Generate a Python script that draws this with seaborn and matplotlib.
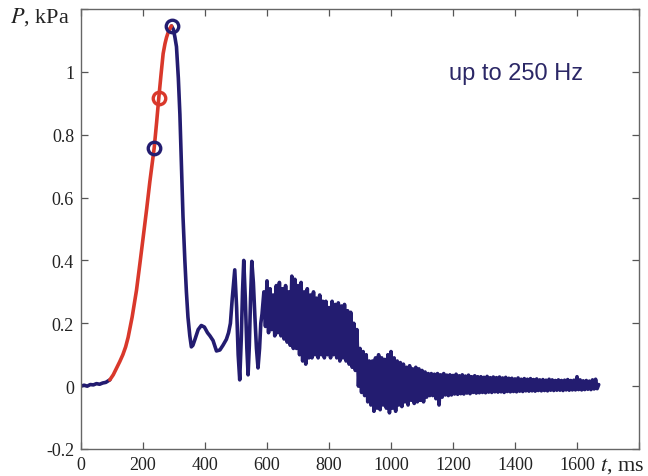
import numpy as np
import pandas as pd
import matplotlib
matplotlib.use("Agg")
import matplotlib.pyplot as plt
from matplotlib.ticker import FuncFormatter
import seaborn as sns

# ---------------- data ----------------
# initial blue baseline
t_base = [0, 10, 20, 30, 40, 50, 60, 70, 80, 93]
p_base = [0.0, 0.003, 0.0, 0.005, 0.004, 0.008, 0.006, 0.01, 0.012, 0.02]

# red rising front
t_rise = [93, 104, 115, 125, 135, 144, 152, 165, 179, 190, 201, 212, 222, 236,
          244, 251, 258, 265, 271, 276, 281, 286, 292]
p_rise = [0.02, 0.036, 0.058, 0.078, 0.10, 0.125, 0.155, 0.22, 0.305, 0.39, 0.477,
          0.565, 0.65, 0.757, 0.84, 0.918, 0.99, 1.058, 1.09, 1.11, 1.125, 1.137, 1.146]

# blue decay and first oscillations
t_decay = [292, 298, 303, 308, 314, 319, 324, 329, 335, 340,
           345, 351, 356, 361, 368, 378, 388, 398, 408, 416,
           426, 437, 448, 458, 469, 476, 482, 488, 496, 502,
           507, 512, 517, 521, 525, 530, 535, 539, 543, 547,
           551, 556, 561, 566, 571, 576, 580, 584]
p_decay = [1.146, 1.135, 1.11, 1.08, 0.98, 0.865, 0.70, 0.54, 0.40, 0.30,
           0.22, 0.16, 0.125, 0.13, 0.15, 0.18, 0.193, 0.188, 0.17, 0.16,
           0.145, 0.112, 0.115, 0.13, 0.149, 0.17, 0.20, 0.28, 0.37, 0.25,
           0.10, 0.02, 0.15, 0.30, 0.40, 0.28, 0.12, 0.036, 0.13, 0.28,
           0.397, 0.33, 0.22, 0.12, 0.058, 0.12, 0.20, 0.23]

# dense high-frequency tail, sampled every 5 ms from 590 to 1670 ms
t_tail = np.arange(590, 1671, 5)
p_tail = [
    0.30, 0.19, 0.335, 0.17, 0.31, 0.18, 0.29, 0.16, 0.32, 0.17,        # 590
    0.33, 0.16, 0.31, 0.15, 0.32, 0.14, 0.30, 0.13, 0.35, 0.12,         # 640
    0.34, 0.12, 0.32, 0.10, 0.33, 0.08, 0.30, 0.07, 0.31, 0.09,         # 690
    0.29, 0.09, 0.30, 0.10, 0.28, 0.09, 0.29, 0.10, 0.27, 0.09,         # 740
    0.27, 0.10, 0.25, 0.09, 0.27, 0.10, 0.26, 0.09, 0.265, 0.08,        # 790
    0.255, 0.09, 0.26, 0.08, 0.24, 0.07, 0.235, 0.06, 0.20, 0.05,       # 840
    0.18, 0.0, 0.12, -0.02, 0.11, -0.03, 0.10, -0.05, 0.08, -0.06,      # 890
    0.08, -0.08, 0.09, -0.07, 0.10, -0.075, 0.09, -0.06, 0.085, -0.07,  # 940
    0.10, -0.085, 0.11, -0.07, 0.09, -0.08, 0.08, -0.06, 0.075, -0.065, # 990
    0.07, -0.05, 0.06, -0.06, 0.065, -0.045, 0.055, -0.055, 0.06, -0.05,  # 1040
    0.055, -0.045, 0.05, -0.05, 0.045, -0.035, 0.04, -0.03, 0.04, -0.03,  # 1090
    0.038, -0.04, 0.04, -0.06, 0.036, -0.035, 0.04, -0.028, 0.035, -0.03, # 1140
    0.036, -0.028, 0.034, -0.025, 0.038, -0.026, 0.033, -0.024, 0.036, -0.025,  # 1190
    0.032, -0.022, 0.035, -0.024, 0.03, -0.02, 0.033, -0.022, 0.03, -0.021,     # 1240
    0.03, -0.02, 0.028, -0.021, 0.031, -0.019, 0.027, -0.02, 0.029, -0.018,     # 1290
    0.027, -0.019, 0.029, -0.018, 0.026, -0.02, 0.028, -0.017, 0.025, -0.018,   # 1340
    0.025, -0.017, 0.023, -0.018, 0.026, -0.016, 0.022, -0.017, 0.024, -0.015,  # 1390
    0.022, -0.016, 0.024, -0.015, 0.021, -0.016, 0.023, -0.014, 0.02, -0.015,   # 1440
    0.021, -0.014, 0.019, -0.015, 0.022, -0.013, 0.02, -0.014, 0.018, -0.013,   # 1490
    0.02, -0.013, 0.018, -0.014, 0.019, -0.012, 0.021, -0.013, 0.018, -0.012,   # 1540
    0.019, -0.012, 0.03, -0.011, 0.02, -0.012, 0.017, -0.011, 0.018, -0.01,     # 1590
    0.016, -0.011, 0.02, -0.009, 0.022, -0.008, 0.005,                          # 1640
]

# marked points
t_blue_marks = [236, 292]
p_blue_marks = [0.757, 1.146]
t_red_marks = [251]
p_red_marks = [0.918]

x_ticks = [0, 200, 400, 600, 800, 1000, 1200, 1400, 1600, 1800]
y_ticks = [-0.2, 0, 0.2, 0.4, 0.6, 0.8, 1.0, 1.2]
annotation = "up to 250 Hz"

# ---------------- plotting ----------------
RED = "#d9382b"
NAVY = "#231c70"

sns.set_style("ticks")
plt.rcParams["font.family"] = ["Liberation Serif", "DejaVu Serif"]

fig = plt.figure(figsize=(6.48, 4.77), dpi=100)
ax = fig.add_axes([81 / 648, 27 / 477, 558 / 648, 440 / 477])

base_df = pd.DataFrame({"t": t_base, "p": p_base})
decay_df = pd.DataFrame({"t": list(t_decay) + list(t_tail),
                         "p": list(p_decay) + list(p_tail)})
rise_df = pd.DataFrame({"t": t_rise, "p": p_rise})

lw = 2.6
sns.lineplot(data=base_df, x="t", y="p", ax=ax, color=NAVY, lw=lw, sort=False, estimator=None)
sns.lineplot(data=decay_df, x="t", y="p", ax=ax, color=NAVY, lw=lw, sort=False, estimator=None)
sns.lineplot(data=rise_df, x="t", y="p", ax=ax, color=RED, lw=lw, sort=False, estimator=None)

ax.plot(t_blue_marks, p_blue_marks, "o", ms=9, mfc="none", mec=NAVY, mew=2.4, zorder=5)
ax.plot(t_red_marks, p_red_marks, "o", ms=9, mfc="none", mec=RED, mew=2.4, zorder=5)

ax.set_xlim(0, 1800)
ax.set_ylim(-0.2, 1.2)
ax.set_xticks(x_ticks)
ax.set_yticks(y_ticks)
ax.xaxis.set_major_formatter(FuncFormatter(lambda v, p: "" if v >= 1800 else f"{v:g}"))
ax.yaxis.set_major_formatter(FuncFormatter(lambda v, p: "" if v > 1.1 else f"{v:g}"))
ax.tick_params(direction="in", length=5, width=0.9, top=True, right=True,
               labelsize=13, colors="#555555", labelcolor="#222222", pad=5)
for s in ax.spines.values():
    s.set_visible(True)
    s.set_color("#666666")
    s.set_linewidth(1.0)
ax.set_xlabel("")
ax.set_ylabel("")

ax.text(1188, 0.995, annotation, family=["Liberation Sans", "DejaVu Sans"],
        fontsize=17, color="#2b2766", ha="left", va="center")

fig.text(10 / 648, 1 - 17 / 477, r"$P$, kPa", fontsize=16, color="#222222",
         ha="left", va="center", math_fontfamily="stix")
fig.text(600 / 648, 1 - 466 / 477, r"$t$, ms", fontsize=16, color="#222222",
         ha="left", va="center", math_fontfamily="stix")

fig.savefig("out.png", dpi=100)
